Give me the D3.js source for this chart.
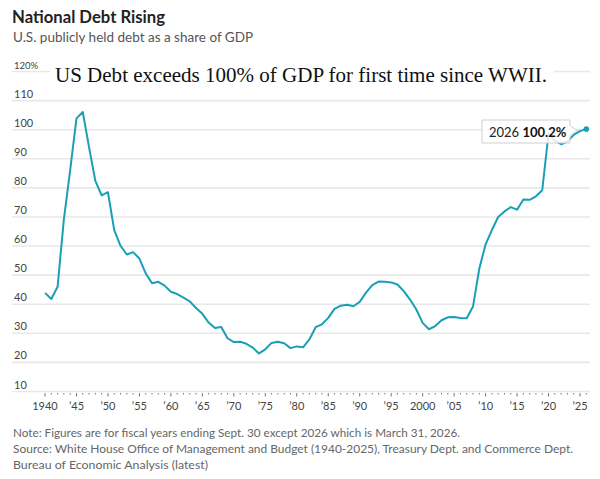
<!DOCTYPE html>
<html>
<head>
<meta charset="utf-8">
<script src="https://cdn.jsdelivr.net/npm/d3@7"></script>
<style>
  body { margin: 0; background: #fff; }
  text { font-family: Lato, "Noto Sans", sans-serif; }
</style>
</head>
<body>
<div id="chart"></div>
<script>
// Debt held by the public, % of GDP, fiscal years 1940-2026
const years = [
  1940, 1941, 1942, 1943, 1944, 1945, 1946, 1947, 1948, 1949,
  1950, 1951, 1952, 1953, 1954, 1955, 1956, 1957, 1958, 1959,
  1960, 1961, 1962, 1963, 1964, 1965, 1966, 1967, 1968, 1969,
  1970, 1971, 1972, 1973, 1974, 1975, 1976, 1977, 1978, 1979,
  1980, 1981, 1982, 1983, 1984, 1985, 1986, 1987, 1988, 1989,
  1990, 1991, 1992, 1993, 1994, 1995, 1996, 1997, 1998, 1999,
  2000, 2001, 2002, 2003, 2004, 2005, 2006, 2007, 2008, 2009,
  2010, 2011, 2012, 2013, 2014, 2015, 2016, 2017, 2018, 2019,
  2020, 2021, 2022, 2023, 2024, 2025, 2026
];
const debtShare = [
  43.9, 41.8, 46.0, 69.2, 86.1, 103.9, 106.1, 93.9, 82.4, 77.4,
  78.5, 65.5, 60.1, 57.1, 57.9, 55.7, 50.6, 47.2, 47.7, 46.4,
  44.3, 43.5, 42.3, 41.0, 38.7, 36.7, 33.7, 31.8, 32.2, 28.3,
  27.0, 27.1, 26.4, 25.1, 23.1, 24.5, 26.7, 27.1, 26.6, 24.9,
  25.5, 25.2, 27.9, 32.1, 33.1, 35.3, 38.4, 39.5, 39.8, 39.3,
  40.8, 44.0, 46.6, 47.8, 47.7, 47.5, 46.8, 44.5, 41.6, 38.2,
  33.6, 31.4, 32.5, 34.5, 35.5, 35.6, 35.3, 35.2, 39.2, 52.2,
  60.6, 65.5, 70.0, 71.9, 73.4, 72.5, 76.0, 75.9, 77.1, 79.2,
  98.6, 96.2, 95.0, 95.9, 98.2, 99.5, 100.2
];
const yTicks = [10, 20, 30, 40, 50, 60, 70, 80, 90, 100, 110, 120];
const xMajorTicks = [1940, 1945, 1950, 1955, 1960, 1965, 1970, 1975, 1980, 1985,
  1990, 1995, 2000, 2005, 2010, 2015, 2020, 2025];

const title = "National Debt Rising";
const subtitle = "U.S. publicly held debt as a share of GDP";
const headline = "US Debt exceeds 100% of GDP for first time since WWII.";
const notes = [
  "Note: Figures are for fiscal years ending Sept. 30 except 2026 which is March 31, 2026.",
  "Source: White House Office of Management and Budget (1940-2025), Treasury Dept. and Commerce Dept.",
  "Bureau of Economic Analysis (latest)"
];
const noteWidths = [447, 560, 195];

const width = 600, height = 479;
const lineColor = "#1a9fb6";

const svg = d3.select("#chart").append("svg")
  .attr("width", width)
  .attr("height", height);

const x = d3.scaleLinear().domain([1940, 2025]).range([45, 580]);
const y = d3.scaleLinear().domain([10, 120]).range([391.5, 71.5]);

// titles
svg.append("text")
  .attr("x", 12).attr("y", 23)
  .attr("font-size", 16.5).attr("font-weight", 700)
  .attr("fill", "#222")
  .attr("textLength", 153)
  .attr("lengthAdjust", "spacingAndGlyphs")
  .text(title);

svg.append("text")
  .attr("x", 13).attr("y", 42)
  .attr("font-size", 13.5)
  .attr("fill", "#555")
  .text(subtitle);

// gridlines
svg.append("g")
  .selectAll("line")
  .data(yTicks)
  .join("line")
  .attr("x1", 12).attr("x2", 590)
  .attr("y1", d => y(d)).attr("y2", d => y(d))
  .attr("stroke", "#e8e8e8")
  .attr("stroke-width", 1.6);

// y labels
svg.append("g")
  .selectAll("text")
  .data(yTicks)
  .join("text")
  .attr("x", 14)
  .attr("y", d => y(d) - 3)
  .attr("font-size", d => d === 120 ? 9.5 : 11)
  .attr("fill", "#444")
  .text(d => d === 120 ? "120%" : d);

// x axis ticks
svg.append("g")
  .selectAll("line")
  .data(years)
  .join("line")
  .attr("x1", d => x(d)).attr("x2", d => x(d))
  .attr("y1", y(10) + 1.5)
  .attr("y2", d => y(10) + (d % 5 === 0 ? 5 : 3))
  .attr("stroke", "#777")
  .attr("stroke-width", 1);

svg.append("g")
  .selectAll("text")
  .data(xMajorTicks)
  .join("text")
  .attr("x", d => x(d))
  .attr("y", 410)
  .attr("text-anchor", "middle")
  .attr("font-size", 11)
  .attr("fill", "#444")
  .text(d => (d === 1940 || d === 2000) ? d : "\u2019" + String(d).slice(2));

// headline with white backing
svg.append("rect")
  .attr("x", 50).attr("y", 62)
  .attr("width", 504).attr("height", 26)
  .attr("fill", "#fff");

svg.append("text")
  .attr("x", 55).attr("y", 82)
  .style("font-family", "'Liberation Serif', 'DejaVu Serif', serif")
  .attr("font-size", 20.5)
  .attr("fill", "#111")
  .attr("textLength", 492)
  .attr("lengthAdjust", "spacingAndGlyphs")
  .text(headline);

// line
const data = years.map((yr, i) => ({ year: yr, value: debtShare[i] }));
const line = d3.line()
  .x(d => x(d.year))
  .y(d => y(d.value));

svg.append("path")
  .datum(data)
  .attr("fill", "none")
  .attr("stroke", lineColor)
  .attr("stroke-width", 2)
  .attr("stroke-linejoin", "round")
  .attr("d", line);

const last = data[data.length - 1];

// callout box
const bx = 482, by = 120, bw = 88, bh = 23;
const tipX = x(last.year) - 9, tipY = by + bh / 2 - 1;
svg.append("path")
  .attr("d", `M${bx},${by} H${bx + bw} V${tipY - 5} L${tipX},${tipY} L${bx + bw},${tipY + 5} V${by + bh} H${bx} Z`)
  .attr("fill", "#fff")
  .attr("fill-opacity", 0.82)
  .attr("stroke", "#d0d0d0")
  .attr("stroke-width", 1);

const tip = svg.append("text")
  .attr("x", bx + 7).attr("y", by + 17)
  .attr("font-size", 13)
  .attr("fill", "#222");
tip.append("tspan").text(last.year + " ");
tip.append("tspan").attr("font-weight", 700).attr("fill", "#111").text(last.value.toFixed(1) + "%");

svg.append("circle")
  .attr("cx", x(last.year))
  .attr("cy", y(last.value))
  .attr("r", 2.8)
  .attr("fill", lineColor);

// notes
svg.append("g")
  .selectAll("text")
  .data(notes)
  .join("text")
  .attr("x", 13)
  .attr("y", (d, i) => 437 + i * 16)
  .attr("font-size", 11.6)
  .attr("fill", "#666")
  .attr("textLength", (d, i) => noteWidths[i])
  .attr("lengthAdjust", "spacingAndGlyphs")
  .text(d => d);
</script>
</body>
</html>
